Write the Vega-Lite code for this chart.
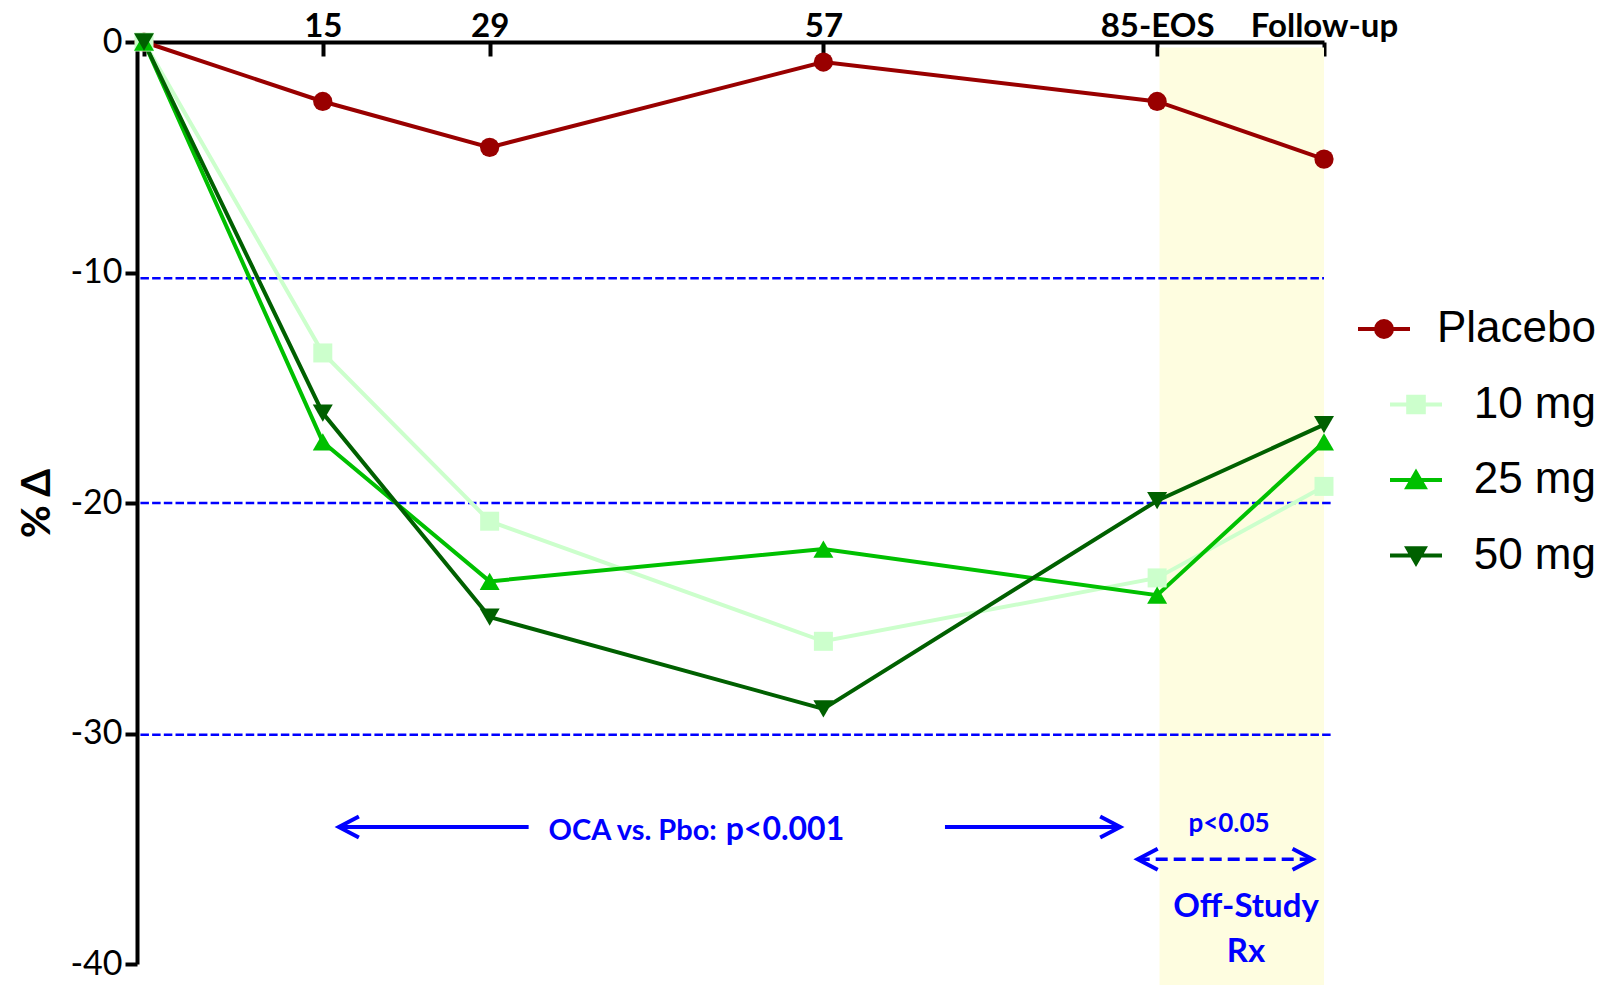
{
  "$schema": "https://vega.github.io/schema/vega-lite/v6.json",
  "width": 1180,
  "height": 922,
  "autosize": {"type": "none"},
  "padding": {"left": 144, "top": 42, "right": 290, "bottom": 21},
  "background": "white",
  "config": {"view": {"stroke": null}, "font": "Lato"},
  "datasets": {
    "series": [
      {"day": 0, "pct": 0, "group": "Placebo"},
      {"day": 15, "pct": -2.58, "group": "Placebo"},
      {"day": 29, "pct": -4.57, "group": "Placebo"},
      {"day": 57, "pct": -0.87, "group": "Placebo"},
      {"day": 85, "pct": -2.58, "group": "Placebo"},
      {"day": 99, "pct": -5.08, "group": "Placebo"},
      {"day": 0, "pct": 0, "group": "10 mg"},
      {"day": 15, "pct": -13.49, "group": "10 mg"},
      {"day": 29, "pct": -20.79, "group": "10 mg"},
      {"day": 57, "pct": -26.0, "group": "10 mg"},
      {"day": 85, "pct": -23.25, "group": "10 mg"},
      {"day": 99, "pct": -19.28, "group": "10 mg"},
      {"day": 0, "pct": 0, "group": "25 mg"},
      {"day": 15, "pct": -17.35, "group": "25 mg"},
      {"day": 29, "pct": -23.4, "group": "25 mg"},
      {"day": 57, "pct": -22.0, "group": "25 mg"},
      {"day": 85, "pct": -24.0, "group": "25 mg"},
      {"day": 99, "pct": -17.35, "group": "25 mg"},
      {"day": 0, "pct": 0, "group": "50 mg"},
      {"day": 15, "pct": -16.1, "group": "50 mg"},
      {"day": 29, "pct": -24.95, "group": "50 mg"},
      {"day": 57, "pct": -28.93, "group": "50 mg"},
      {"day": 85, "pct": -19.9, "group": "50 mg"},
      {"day": 99, "pct": -16.6, "group": "50 mg"}
    ],
    "refLines": [
      {"from": -0.3, "to": 99, "level": -10.25},
      {"from": -0.3, "to": 99.7, "level": -20},
      {"from": -0.3, "to": 99.7, "level": -30.05}
    ]
  },
  "layer": [
    {
      "data": {"values": [{"start": 85.2, "end": 99, "top": -0.24, "bottom": -41}]},
      "mark": {"type": "rect", "color": "#fefde0"},
      "encoding": {
        "x": {
          "field": "start", "type": "quantitative",
          "scale": {"domain": [0, 99], "nice": false, "zero": false},
          "axis": {
            "orient": "top", "values": [0, 15, 29, 57, 85, 99],
            "labelExpr": "datum.value == 0 ? '' : datum.value == 85 ? '85-EOS' : datum.value == 99 ? 'Follow-up' : datum.label",
            "title": null, "grid": false,
            "domainColor": "black", "domainWidth": 4,
            "tickColor": "black", "tickWidth": 4, "tickSize": -14,
            "labelFont": "Lato", "labelFontWeight": "bold", "labelFontSize": 33, "labelColor": "black",
            "labelBaseline": "alphabetic", "labelPadding": 20,
            "labelOverlap": false, "labelFlush": false
          }
        },
        "x2": {"field": "end"},
        "y": {
          "field": "top", "type": "quantitative",
          "scale": {"domain": [-40, 0], "nice": false, "zero": false},
          "axis": {
            "values": [0, -10, -20, -30, -40],
            "labelExpr": "'' + datum.value",
            "title": "% Δ", "grid": false, "offset": 7,
            "domainColor": "black", "domainWidth": 4,
            "tickColor": "black", "tickWidth": 4, "tickSize": 12,
            "labelFont": "Lato", "labelFontSize": 34, "labelColor": "black", "labelPadding": 3,
            "titleFont": "Lato", "titleFontWeight": "bold", "titleFontSize": 40, "titleColor": "black",
            "titlePadding": 12
          }
        },
        "y2": {"field": "bottom"}
      }
    },
    {
      "data": {"name": "refLines"},
      "mark": {"type": "rule", "color": "#0000ff", "strokeWidth": 2.5, "strokeDash": [8.5, 3.2]},
      "encoding": {
        "x": {"field": "from", "type": "quantitative"},
        "x2": {"field": "to"},
        "y": {"field": "level", "type": "quantitative"}
      }
    },
    {
      "data": {"name": "series"},
      "mark": {"type": "line", "strokeWidth": 4},
      "encoding": {
        "x": {"field": "day", "type": "quantitative"},
        "y": {"field": "pct", "type": "quantitative"},
        "stroke": {
          "field": "group", "type": "nominal",
          "scale": {"domain": ["Placebo", "10 mg", "25 mg", "50 mg"], "range": ["#990000", "#ccffcc", "#00c000", "#006000"]}
        }
      }
    },
    {
      "data": {"name": "series"},
      "mark": {"type": "point", "opacity": 0},
      "encoding": {
        "x": {"field": "day", "type": "quantitative"},
        "y": {"field": "pct", "type": "quantitative"},
        "shape": {
          "field": "group", "type": "nominal",
          "scale": {
            "domain": ["Placebo", "10 mg", "25 mg", "50 mg"],
            "range": [
              "M-6,0M-5.8,0H-0.6M-4,0A0.8,0.8,0,1,1,-2.4,0A0.8,0.8,0,1,1,-4,0Z",
              "M-6,0M-2.6,0H2.6M-0.78,-0.78H0.78V0.78H-0.78Z",
              "M-6,0M-2.6,0H2.6M0,-0.75L0.85,0.72H-0.85Z",
              "M-6,0M-2.6,0H2.6M0,0.75L0.85,-0.72H-0.85Z"
            ]
          },
          "legend": {
            "orient": "none", "legendX": 1250, "legendY": 265,
            "title": null, "padding": 0,
            "symbolSize": 400, "symbolStrokeWidth": 4, "symbolOpacity": 1,
            "labelFont": "Liberation Sans", "labelFontSize": 44, "labelColor": "black",
            "labelAlign": "right", "labelOffset": 158, "labelLimit": 500,
            "rowPadding": 31.5
          }
        }
      }
    },
    {
      "data": {"name": "series"},
      "transform": [{"filter": "datum.group === 'Placebo'"}],
      "mark": {"type": "point", "shape": "circle", "filled": true, "size": 370, "opacity": 1},
      "encoding": {
        "x": {"field": "day", "type": "quantitative"},
        "y": {"field": "pct", "type": "quantitative"},
        "fill": {
          "field": "group", "type": "nominal",
          "scale": {"domain": ["Placebo", "10 mg", "25 mg", "50 mg"], "range": ["#990000", "#ccffcc", "#00c000", "#006000"]}
        }
      }
    },
    {
      "data": {"name": "series"},
      "transform": [{"filter": "datum.group === '10 mg'"}],
      "mark": {"type": "point", "shape": "square", "filled": true, "size": 361, "opacity": 1},
      "encoding": {
        "x": {"field": "day", "type": "quantitative"},
        "y": {"field": "pct", "type": "quantitative"},
        "fill": {"field": "group", "type": "nominal"}
      }
    },
    {
      "data": {"name": "series"},
      "transform": [{"filter": "datum.group === '25 mg'"}],
      "mark": {"type": "point", "shape": "triangle-up", "filled": true, "size": 400, "opacity": 1},
      "encoding": {
        "x": {"field": "day", "type": "quantitative"},
        "y": {"field": "pct", "type": "quantitative"},
        "fill": {"field": "group", "type": "nominal"}
      }
    },
    {
      "data": {"name": "series"},
      "transform": [{"filter": "datum.group === '50 mg'"}],
      "mark": {"type": "point", "shape": "triangle-down", "filled": true, "size": 400, "opacity": 1},
      "encoding": {
        "x": {"field": "day", "type": "quantitative"},
        "y": {"field": "pct", "type": "quantitative"},
        "fill": {"field": "group", "type": "nominal"}
      }
    },
    {
      "data": {"values": [{"from": 16.35, "to": 32.27, "at": -34.06}, {"from": 67.2, "to": 81.9, "at": -34.06}]},
      "mark": {"type": "rule", "color": "#0000ff", "strokeWidth": 4},
      "encoding": {
        "x": {"field": "from", "type": "quantitative"},
        "x2": {"field": "to"},
        "y": {"field": "at", "type": "quantitative"}
      }
    },
    {
      "data": {"values": [{"from": 83.37, "to": 98.04, "at": -35.46}]},
      "mark": {"type": "rule", "color": "#0000ff", "strokeWidth": 3.5, "strokeDash": [12, 6]},
      "encoding": {
        "x": {"field": "from", "type": "quantitative"},
        "x2": {"field": "to"},
        "y": {"field": "at", "type": "quantitative"}
      }
    },
    {
      "data": {"values": [{"tip": 16.35, "at": -34.06}, {"tip": 83.37, "at": -35.46}]},
      "mark": {"type": "point", "shape": "M1,-0.525L0,0L1,0.525", "size": 1600, "filled": false, "color": "#0000ff", "strokeWidth": 4, "opacity": 1},
      "encoding": {
        "x": {"field": "tip", "type": "quantitative"},
        "y": {"field": "at", "type": "quantitative"}
      }
    },
    {
      "data": {"values": [{"tip": 81.9, "at": -34.06}, {"tip": 98.04, "at": -35.46}]},
      "mark": {"type": "point", "shape": "M-1,-0.525L0,0L-1,0.525", "size": 1600, "filled": false, "color": "#0000ff", "strokeWidth": 4, "opacity": 1},
      "encoding": {
        "x": {"field": "tip", "type": "quantitative"},
        "y": {"field": "at", "type": "quantitative"}
      }
    },
    {
      "data": {"values": [{"x": 33.94, "y": -34.64, "label": "OCA vs. Pbo:"}]},
      "mark": {"type": "text", "align": "left", "baseline": "alphabetic", "font": "Lato", "fontWeight": "bold", "fontSize": 29, "color": "#0000ff"},
      "encoding": {
        "x": {"field": "x", "type": "quantitative"},
        "y": {"field": "y", "type": "quantitative"},
        "text": {"field": "label"}
      }
    },
    {
      "data": {"values": [{"x": 48.8, "y": -34.64, "label": "p<0.001"}]},
      "mark": {"type": "text", "align": "left", "baseline": "alphabetic", "font": "Lato", "fontWeight": "bold", "fontSize": 32, "color": "#0000ff"},
      "encoding": {
        "x": {"field": "x", "type": "quantitative"},
        "y": {"field": "y", "type": "quantitative"},
        "text": {"field": "label"}
      }
    },
    {
      "data": {"values": [{"x": 91.03, "y": -34.29, "label": "p<0.05"}]},
      "mark": {"type": "text", "align": "center", "baseline": "alphabetic", "font": "Lato", "fontWeight": "bold", "fontSize": 26, "color": "#0000ff"},
      "encoding": {
        "x": {"field": "x", "type": "quantitative"},
        "y": {"field": "y", "type": "quantitative"},
        "text": {"field": "label"}
      }
    },
    {
      "data": {"values": [{"x": 92.46, "y": -37.98, "label": "Off-Study"}, {"x": 92.46, "y": -39.93, "label": "Rx"}]},
      "mark": {"type": "text", "align": "center", "baseline": "alphabetic", "font": "Lato", "fontWeight": "bold", "fontSize": 33, "color": "#0000ff"},
      "encoding": {
        "x": {"field": "x", "type": "quantitative"},
        "y": {"field": "y", "type": "quantitative"},
        "text": {"field": "label"}
      }
    }
  ]
}
